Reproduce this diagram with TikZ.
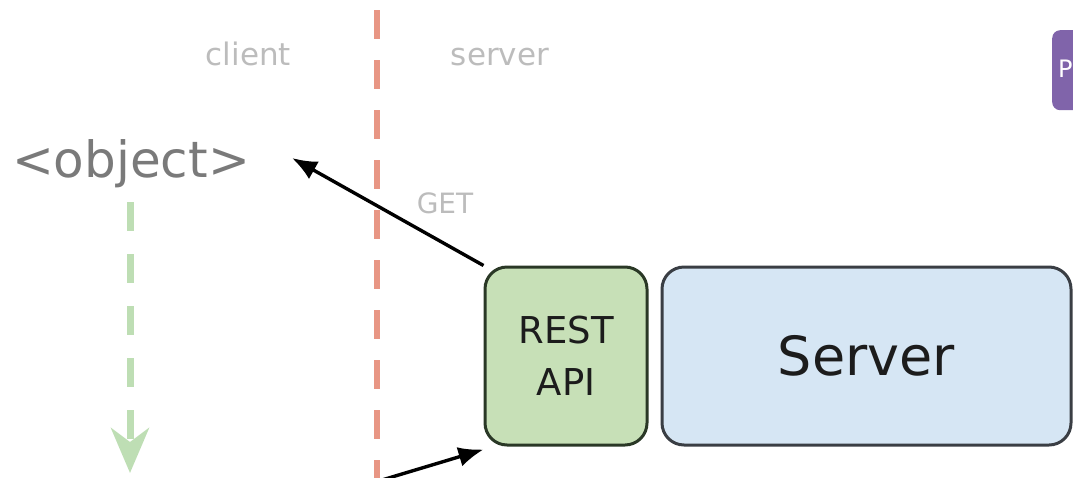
\documentclass[tikz,border=0pt]{standalone}
\usepackage{fontspec}
\setmainfont{DejaVu Sans}
\usetikzlibrary{arrows.meta}
\definecolor{lightgraytxt}{RGB}{188,188,188}
\definecolor{objgray}{RGB}{122,122,122}
\definecolor{darktxt}{RGB}{28,28,28}
\definecolor{redline}{RGB}{232,150,132}
\definecolor{greenline}{RGB}{190,222,180}
\definecolor{restfill}{RGB}{199,224,183}
\definecolor{restdraw}{RGB}{42,56,38}
\definecolor{serverfill}{RGB}{214,230,244}
\definecolor{serverdraw}{RGB}{58,62,68}
\definecolor{purplebox}{RGB}{128,100,170}
\tikzset{
  lbl/.style={anchor=base, text=lightgraytxt, font=\fontsize{31}{37}\selectfont, inner sep=0pt},
  blackarrow/.style={draw=black, line width=3.4pt, -{Latex[length=25pt,width=20pt]}},
  boxshape/.style={rectangle, rounded corners=22pt, line width=3pt, minimum height=178pt, inner sep=0pt, text=darktxt},
}
\begin{document}
\begin{tikzpicture}[x=1pt,y=-1pt]
\useasboundingbox (0,0) rectangle (1073,477);
\clip (0,0) rectangle (1073,477);
% purple tab
\node[fill=purplebox, rounded corners=8pt, minimum width=60pt, minimum height=80pt, anchor=north west, inner sep=0pt] (tab) at (1052,30) {};
\node[anchor=base west, text=white, font=\fontsize{24}{30}\selectfont, inner sep=0pt] (tabtxt) at (1058,77) {P};
% divider
\coordinate (divtop) at (377,10);
\coordinate (divbot) at (377,490);
\draw[redline, line width=6pt, dash pattern=on 29pt off 21pt] (divtop) -- (divbot);
% labels
\node[lbl] (client) at (248.5,65) {client};
\node[lbl] (server) at (500,65) {server};
\node[anchor=base, text=objgray, font=\fontsize{50}{60}\selectfont, inner sep=0pt] (obj) at (131,177) {<object>};
\node[anchor=base, text=lightgraytxt, font=\fontsize{28}{34}\selectfont, inner sep=0pt] (get) at (445,213) {GET};
% boxes
\node[boxshape, fill=restfill, draw=restdraw, minimum width=162pt, align=center, font=\fontsize{37}{52}\selectfont] (rest) at (566,356) {REST\\API};
\node[boxshape, fill=serverfill, draw=serverdraw, minimum width=409pt, font=\fontsize{54}{64}\selectfont] (srv) at (866.5,356) {Server};
% green dashed arrow
\coordinate (gstart) at (130,202);
\coordinate (gend) at (130,473);
\draw[greenline, line width=7pt, dash pattern=on 29pt off 23pt, -{Stealth[length=45pt,width=38pt,inset=14pt]}] (gstart) -- (gend);
% black arrows
\coordinate (objtip) at (292,158);
\draw[blackarrow] (rest.north west) -- (objtip);
\coordinate (botstart) at (372,483);
\draw[blackarrow] (botstart) -- ([yshift=-3pt]rest.south west);
\end{tikzpicture}
\end{document}
